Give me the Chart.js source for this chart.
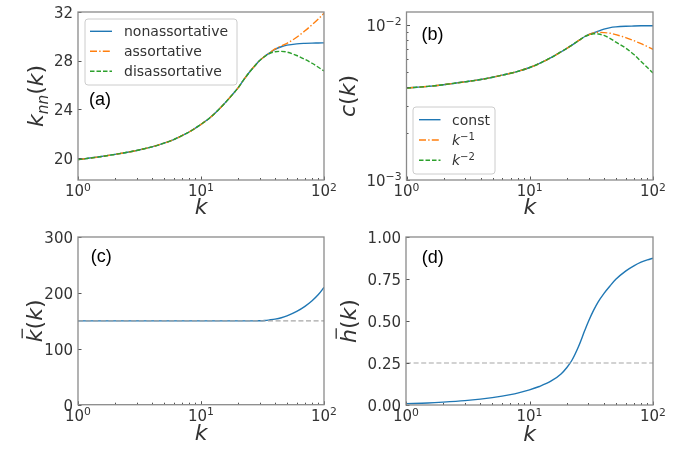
<!DOCTYPE html>
<html>
<head>
<meta charset="utf-8">
<script src="https://cdn.jsdelivr.net/npm/chart.js@4.4.0/dist/chart.umd.min.js"></script>
<style>
  html, body { margin: 0; padding: 0; background: #fff; }
  #wrap { position: relative; width: 690px; height: 457px; overflow: hidden; background: #fff; }
  canvas { position: absolute; left: 0; top: 0; }
</style>
</head>
<body>
<div id="wrap">
  <canvas id="pa" width="690" height="457"></canvas>
  <canvas id="pb" width="690" height="457"></canvas>
  <canvas id="pc" width="690" height="457"></canvas>
  <canvas id="pd" width="690" height="457"></canvas>
</div>
<script>
// degree grid shared by every panel
const kGrid = [1, 1.5, 2, 3, 4, 5, 6, 7, 8, 10, 12, 15, 18, 20, 22, 25, 28, 30, 33, 36, 40, 45, 50, 60, 70, 80, 90, 100];

// (a) k_nn(k)
const knnNon = [19.85, 20.08, 20.28, 20.6, 20.9, 21.2, 21.5, 21.82, 22.12, 22.75, 23.35, 24.3, 25.2, 25.75, 26.35, 27.1, 27.68, 28.0, 28.36, 28.62, 28.92, 29.14, 29.27, 29.38, 29.42, 29.44, 29.45, 29.46];
const knnAss = [19.85, 20.08, 20.28, 20.6, 20.9, 21.2, 21.5, 21.82, 22.12, 22.75, 23.35, 24.3, 25.2, 25.75, 26.35, 27.1, 27.68, 28.0, 28.36, 28.64, 28.96, 29.2, 29.42, 29.92, 30.45, 30.95, 31.42, 31.9];
const knnDis = [19.85, 20.08, 20.28, 20.6, 20.9, 21.2, 21.5, 21.82, 22.12, 22.75, 23.35, 24.3, 25.2, 25.75, 26.35, 27.1, 27.68, 28.0, 28.34, 28.58, 28.73, 28.76, 28.7, 28.42, 28.1, 27.78, 27.45, 27.15];
const labelsA = ['nonassortative', 'assortative', 'disassortative'];

// (b) c(k)
const cConst = [0.00392, 0.00402, 0.00412, 0.0043, 0.00445, 0.0046, 0.00475, 0.00488, 0.00502, 0.00532, 0.00565, 0.00618, 0.00672, 0.00707, 0.00742, 0.00795, 0.00843, 0.00865, 0.0089, 0.00912, 0.0094, 0.00962, 0.00972, 0.00981, 0.00985, 0.00988, 0.0099, 0.0099];
const cInv1 = [0.00392, 0.00402, 0.00412, 0.0043, 0.00445, 0.0046, 0.00475, 0.00488, 0.00502, 0.00532, 0.00565, 0.00618, 0.00672, 0.00707, 0.00742, 0.00795, 0.00843, 0.00865, 0.00888, 0.00897, 0.00893, 0.00884, 0.00866, 0.0083, 0.00792, 0.00758, 0.00726, 0.00697];
const cInv2 = [0.00392, 0.00402, 0.00412, 0.0043, 0.00445, 0.0046, 0.00475, 0.00488, 0.00502, 0.00532, 0.00565, 0.00618, 0.00672, 0.00707, 0.00742, 0.00795, 0.00843, 0.00862, 0.00878, 0.00874, 0.00856, 0.00818, 0.00775, 0.0071, 0.00645, 0.00582, 0.00532, 0.0049];
const labelsB = ['const', 'k^−1', 'k^−2'];

// (c) mean degree, (d) h(k)
const kbarVals = [150, 150, 150, 150, 150, 150, 150, 150, 150, 150, 150, 150, 150, 150, 150, 150, 150, 150.1, 150.6, 151.6, 153, 155.5, 159, 167, 176, 186, 197, 210];
const kbarRef = 150;
const hbarVals = [0.008, 0.012, 0.017, 0.026, 0.035, 0.044, 0.053, 0.062, 0.071, 0.09, 0.11, 0.143, 0.185, 0.222, 0.265, 0.35, 0.443, 0.497, 0.563, 0.614, 0.663, 0.71, 0.748, 0.797, 0.828, 0.85, 0.864, 0.874];
const hbarRef = 0.25;

// ticks
const xMajor = [1, 10, 100];
const xMajorText = ['10^0', '10^1', '10^2'];
const xMinor = [2, 3, 4, 5, 6, 7, 8, 9, 20, 30, 40, 50, 60, 70, 80, 90];
const yTicksA = [20, 24, 28, 32];
const yTicksB = [0.001, 0.01];
const yTicksBText = ['10^−3', '10^−2'];
const yMinorB = [0.002, 0.003, 0.004, 0.005, 0.006, 0.007, 0.008, 0.009];
const yTicksC = [0, 100, 200, 300];
const yTicksD = [0, 0.25, 0.5, 0.75, 1];

const FAMILY = '"DejaVu Sans", sans-serif';
const BLUE = '#1f77b4', ORANGE = '#ff7f0e', GREEN = '#2ca02c', REF = '#a6a6a6';
const FRAME = '#8a8a8a', TICK = '#555555', TEXT = '#333333';

const pts = arr => kGrid.map((k, i) => ({ x: k, y: arr[i] }));
const flat = v => [{ x: 1, y: v }, { x: 100, y: v }];

function drawMath(ctx, segs, x, y, size, color) {
  let cx = x;
  ctx.fillStyle = color;
  ctx.strokeStyle = color;
  ctx.textBaseline = 'alphabetic';
  ctx.textAlign = 'left';
  for (const s of segs) {
    const fs = size * (s.s || 1);
    ctx.font = (s.it ? 'italic ' : '') + fs + 'px ' + FAMILY;
    const w = ctx.measureText(s.t).width;
    const by = y + (s.dy || 0) * size;
    ctx.fillText(s.t, cx, by);
    if (s.bar) {
      ctx.beginPath();
      ctx.lineWidth = size * 0.06;
      ctx.moveTo(cx + w * 0.3, by - size * 0.9);
      ctx.lineTo(cx + w * 1.05, by - size * 0.9);
      ctx.stroke();
    }
    cx += w;
  }
}

function mathWidth(ctx, segs, size) {
  let w = 0;
  for (const s of segs) {
    ctx.font = (s.it ? 'italic ' : '') + size * (s.s || 1) + 'px ' + FAMILY;
    w += ctx.measureText(s.t).width;
  }
  return w;
}

// "base^sup" -> base plus raised superscript; a lone letter base is italic
function textSegs(label) {
  const m = String(label).match(/^(.+?)\^(.+)$/);
  if (!m) return [{ t: String(label) }];
  return [{ t: m[1], it: /^[a-z]$/.test(m[1]) ? 1 : 0 }, { t: m[2], s: 0.72, dy: -0.36 }];
}

// frame, inward ticks, tick labels, axis titles, panel letter and legend
const deco = {
  id: 'deco',
  afterDatasetsDraw(chart, args, o) {
    const { ctx, chartArea: a, scales } = chart;
    ctx.save();

    ctx.strokeStyle = TICK;
    ctx.lineWidth = 1;
    const tick = (axis, v, len) => {
      ctx.beginPath();
      if (axis === 'x') {
        const p = Math.round(scales.x.getPixelForValue(v)) + 0.5;
        ctx.moveTo(p, a.bottom);
        ctx.lineTo(p, a.bottom - len);
      } else {
        const p = Math.round(scales.y.getPixelForValue(v)) + 0.5;
        ctx.moveTo(a.left, p);
        ctx.lineTo(a.left + len, p);
      }
      ctx.stroke();
    };
    scales.x.ticks.forEach(t => tick('x', t.value, 3.5));
    xMinor.forEach(v => tick('x', v, 2));
    scales.y.ticks.forEach(t => tick('y', t.value, 3.5));
    (o.yMinor || []).forEach(v => tick('y', v, 2));

    ctx.strokeStyle = FRAME;
    ctx.lineWidth = 1.3;
    ctx.strokeRect(a.left, a.top, a.right - a.left, a.bottom - a.top);

    // tick labels
    scales.x.ticks.forEach(t => {
      const segs = textSegs(t.label);
      const w = mathWidth(ctx, segs, 15);
      drawMath(ctx, segs, scales.x.getPixelForValue(t.value) - w / 2, a.bottom + 16, 15, TEXT);
    });
    scales.y.ticks.forEach(t => {
      const segs = textSegs(t.label);
      const w = mathWidth(ctx, segs, 15);
      drawMath(ctx, segs, a.left - 5 - w, scales.y.getPixelForValue(t.value) + 5.8, 15, TEXT);
    });

    // x title
    const xs = [{ t: 'k', it: 1 }];
    const xw = mathWidth(ctx, xs, 22);
    drawMath(ctx, xs, (a.left + a.right) / 2 - xw / 2, a.bottom + o.xTitleDy, 22, TEXT);

    // y title
    const yw = mathWidth(ctx, o.yTitle, 22);
    ctx.save();
    ctx.translate(a.left + o.yTitleDx, (a.top + a.bottom) / 2);
    ctx.rotate(-Math.PI / 2);
    drawMath(ctx, o.yTitle, -yw / 2, 0, 22, TEXT);
    ctx.restore();

    // panel letter
    ctx.fillStyle = '#000';
    ctx.font = '18px "Liberation Sans", Arial, sans-serif';
    ctx.textAlign = 'left';
    ctx.textBaseline = 'alphabetic';
    ctx.fillText(o.letter, a.left + o.letterAt[0], a.top + o.letterAt[1]);

    // legend
    if (o.legend) {
      const L = o.legend;
      const lx = a.left + L.x, ly = a.top + L.y;
      ctx.beginPath();
      ctx.roundRect(lx, ly, L.w, L.h, 3);
      ctx.fillStyle = 'rgba(255,255,255,0.85)';
      ctx.fill();
      ctx.strokeStyle = '#cccccc';
      ctx.lineWidth = 1;
      ctx.stroke();
      const ds = chart.data.datasets.filter(d => d.label);
      ds.forEach((d, i) => {
        const cy = ly + L.row0 + i * L.dy;
        ctx.beginPath();
        ctx.setLineDash(d.borderDash || []);
        ctx.strokeStyle = d.borderColor;
        ctx.lineWidth = d.borderWidth;
        ctx.moveTo(lx + L.l0, cy);
        ctx.lineTo(lx + L.l1, cy);
        ctx.stroke();
        ctx.setLineDash([]);
        drawMath(ctx, textSegs(d.label), lx + L.tx, cy + 5, 14, TEXT);
      });
    }
    ctx.restore();
  }
};

function panel(id, pad, yScale, datasets, decoOpts) {
  return new Chart(document.getElementById(id), {
    type: 'line',
    data: { datasets },
    options: {
      responsive: false,
      animation: false,
      layout: { padding: pad },
      elements: {
        point: { radius: 0 },
        line: { borderWidth: 1.4, cubicInterpolationMode: 'monotone' }
      },
      plugins: { legend: { display: false }, tooltip: { enabled: false }, deco: decoOpts },
      scales: {
        x: {
          type: 'logarithmic', min: 1, max: 100,
          afterFit: s => { s.height = 0; },
          afterBuildTicks: s => { s.ticks = xMajor.map(v => ({ value: v })); },
          grid: { display: false, drawTicks: false },
          border: { display: false },
          ticks: { display: false, autoSkip: false, callback: v => xMajorText[xMajor.indexOf(v)] }
        },
        y: Object.assign({
          afterFit: s => { s.width = 0; },
          grid: { display: false, drawTicks: false },
          border: { display: false }
        }, yScale)
      }
    },
    plugins: [deco]
  });
}

function yAxis(type, min, max, values, text) {
  return {
    type, min, max,
    afterBuildTicks: s => { s.ticks = values.map(v => ({ value: v })); },
    ticks: { display: false, autoSkip: false, callback: v => text(v) }
  };
}

const DASH = [4.5, 2];
const DASHDOT = [7, 2.2, 1.4, 2.2];

panel('pa', { left: 78, top: 12, right: 366, bottom: 277 },
  yAxis('linear', 18.17, 32, yTicksA, v => String(v)),
  [
    { label: labelsA[0], data: pts(knnNon), borderColor: BLUE, borderWidth: 1.4, order: 3 },
    { label: labelsA[1], data: pts(knnAss), borderColor: ORANGE, borderWidth: 1.4, borderDash: DASHDOT, order: 2 },
    { label: labelsA[2], data: pts(knnDis), borderColor: GREEN, borderWidth: 1.4, borderDash: DASH, order: 1 }
  ],
  {
    letter: '(a)', letterAt: [11, 93], xTitleDy: 33.5, yTitleDx: -35,
    yTitle: [{ t: 'k', it: 1 }, { t: 'nn', it: 1, s: 0.7, dy: 0.22 }, { t: '(' }, { t: 'k', it: 1 }, { t: ')' }],
    legend: { x: 7, y: 7, w: 152, h: 66, row0: 12.3, dy: 20, l0: 5, l1: 27, tx: 39 }
  });

panel('pb', { left: 406.5, top: 12, right: 37, bottom: 277 },
  yAxis('logarithmic', 0.001, 0.01213, yTicksB, v => yTicksBText[yTicksB.indexOf(v)]),
  [
    { label: labelsB[0], data: pts(cConst), borderColor: BLUE, borderWidth: 1.4, order: 3 },
    { label: labelsB[1], data: pts(cInv1), borderColor: ORANGE, borderWidth: 1.4, borderDash: DASHDOT, order: 2 },
    { label: labelsB[2], data: pts(cInv2), borderColor: GREEN, borderWidth: 1.4, borderDash: DASH, order: 1 }
  ],
  {
    letter: '(b)', letterAt: [15, 28], xTitleDy: 33.5, yTitleDx: -51.5, yMinor: yMinorB,
    yTitle: [{ t: 'c', it: 1 }, { t: '(' }, { t: 'k', it: 1 }, { t: ')' }],
    legend: { x: 6.5, y: 95, w: 82, h: 67, row0: 12.7, dy: 20.3, l0: 6, l1: 27.5, tx: 39 }
  });

panel('pc', { left: 78, top: 237, right: 366, bottom: 52.3 },
  yAxis('linear', 0, 300, yTicksC, v => String(v)),
  [
    { data: flat(kbarRef), borderColor: REF, borderWidth: 1.2, borderDash: [5, 2.6], order: 1 },
    { data: pts(kbarVals), borderColor: BLUE, borderWidth: 1.4, order: 2 }
  ],
  {
    letter: '(c)', letterAt: [12.7, 25], xTitleDy: 35.5, yTitleDx: -36,
    yTitle: [{ t: 'k', it: 1, bar: 1 }, { t: '(' }, { t: 'k', it: 1 }, { t: ')' }]
  });

panel('pd', { left: 406, top: 237, right: 37, bottom: 52 },
  yAxis('linear', 0, 1, yTicksD, v => v.toFixed(2)),
  [
    { data: flat(hbarRef), borderColor: REF, borderWidth: 1.2, borderDash: [5, 2.6], order: 1 },
    { data: pts(hbarVals), borderColor: BLUE, borderWidth: 1.4, order: 2 }
  ],
  {
    letter: '(d)', letterAt: [15.7, 26], xTitleDy: 35.5, yTitleDx: -50,
    yTitle: [{ t: 'h', it: 1, bar: 1 }, { t: '(' }, { t: 'k', it: 1 }, { t: ')' }]
  });
</script>
</body>
</html>
